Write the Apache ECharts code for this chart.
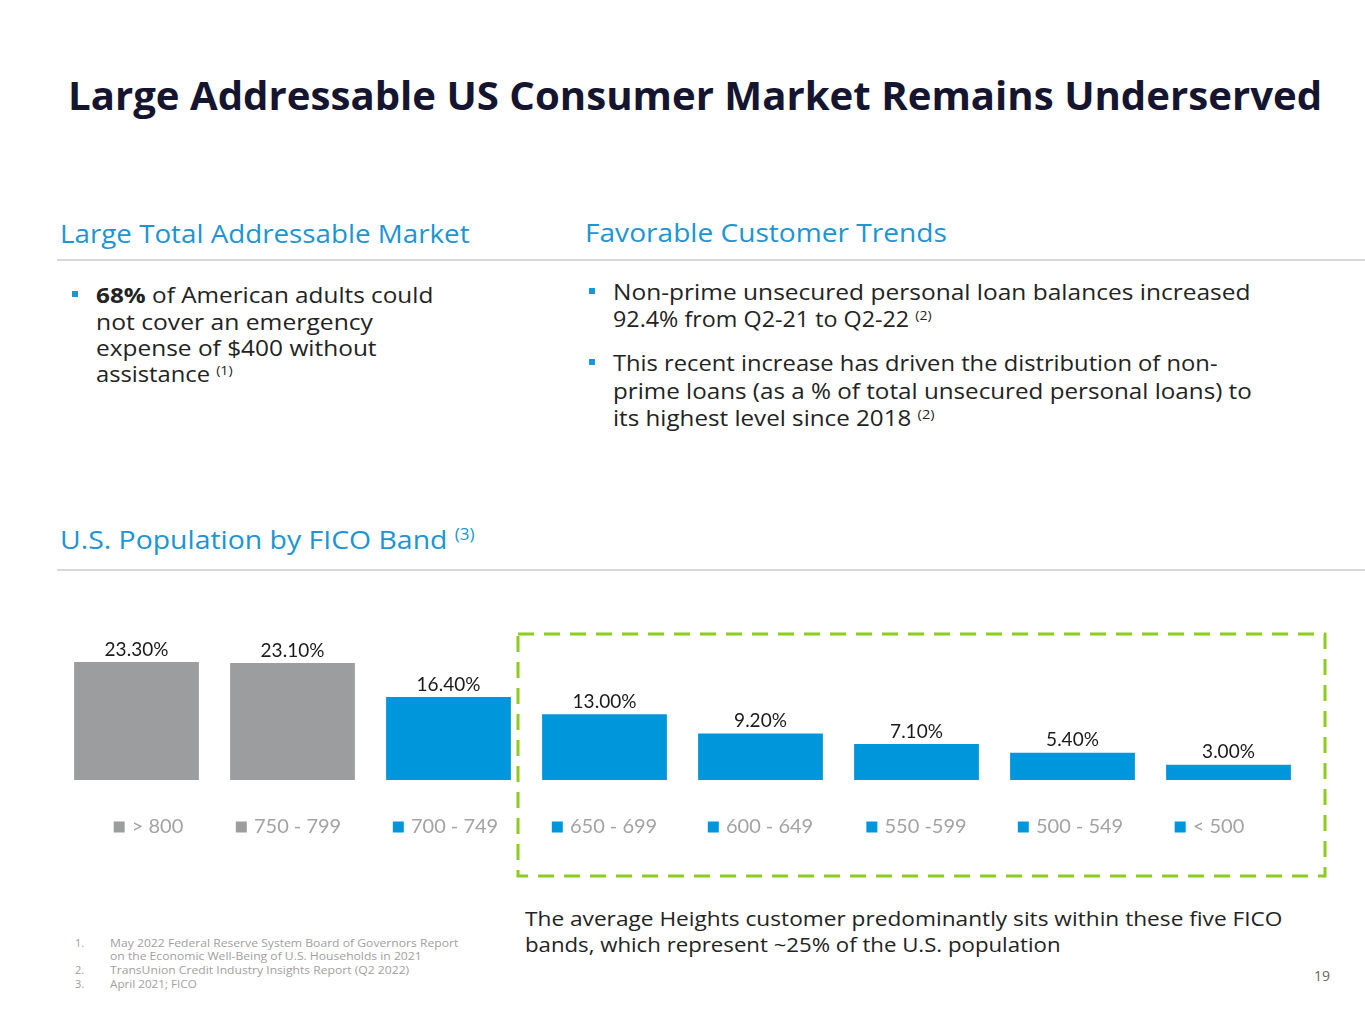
<!DOCTYPE html>
<html>
<head>
<meta charset="utf-8">
<script src="https://cdn.jsdelivr.net/npm/echarts@6/dist/echarts.min.js"></script>
<style>
  html, body { margin:0; padding:0; background:#fff; }
  #page { position:relative; width:1365px; height:1024px; overflow:hidden; font-family:"Open Sans", sans-serif; }
  .ln { position:absolute; white-space:nowrap; transform-origin:0 50%; line-height:1; }
  .ln sup { font-size:0.6em; vertical-align:0.55em; line-height:0; }
  .title { font-weight:700; color:#15152f; font-size:39px; }
  .head { color:#1b95d3; font-size:26px; }
  .body { color:#232323; font-size:22px; }
  .btm { color:#232323; font-size:20px; }
  .fn { color:#a0a0a0; font-size:11px; }
  .pg { color:#666; font-size:14px; }
  .rule { position:absolute; left:57px; right:0; height:1.5px; background:#d8d8d8; }
  .sq { position:absolute; width:6px; height:6px; background:#1b95d3; }
  #chart { position:absolute; left:0; top:0; width:1365px; height:1024px; }
</style>
</head>
<body>
<div id="page">
  <div class="ln title" data-w="1254" style="left:68px; top:94px;">Large Addressable US Consumer Market Remains Underserved</div>

  <div class="ln head" data-w="410" style="left:60px; top:233px;">Large Total Addressable Market</div>
  <div class="ln head" data-w="362" style="left:585px; top:232px;">Favorable Customer Trends</div>
  <div class="rule" style="top:259px;"></div>

  <div class="sq" style="left:72px; top:291px;"></div>
  <div class="ln body" data-w="337" style="left:96px; top:294px;"><b>68%</b> of American adults could</div>
  <div class="ln body" data-w="277" style="left:96px; top:321px;">not cover an emergency</div>
  <div class="ln body" data-w="281" style="left:96px; top:347px;">expense of $400 without</div>
  <div class="ln body" data-w="137" style="left:96px; top:373px;">assistance <sup>(1)</sup></div>

  <div class="sq" style="left:589px; top:288px;"></div>
  <div class="ln body" data-w="637" style="left:613px; top:291px;">Non-prime unsecured personal loan balances increased</div>
  <div class="ln body" data-w="319" style="left:613px; top:318px;">92.4% from Q2-21 to Q2-22 <sup>(2)</sup></div>
  <div class="sq" style="left:589px; top:359px;"></div>
  <div class="ln body" data-w="605" style="left:613px; top:362px;">This recent increase has driven the distribution of non-</div>
  <div class="ln body" data-w="639" style="left:613px; top:390px;">prime loans (as a % of total unsecured personal loans) to</div>
  <div class="ln body" data-w="322" style="left:613px; top:417px;">its highest level since 2018 <sup>(2)</sup></div>

  <div class="ln head" data-w="415" style="left:60px; top:539px;">U.S. Population by FICO Band <sup>(3)</sup></div>
  <div class="rule" style="top:569px;"></div>

  <div class="ln btm" data-w="758" style="left:525px; top:919px;">The average Heights customer predominantly sits within these five FICO</div>
  <div class="ln btm" data-w="535" style="left:525px; top:945px;">bands, which represent ~25% of the U.S. population</div>

  <div class="ln fn" style="left:75px; top:942px;">1.</div>
  <div class="ln fn" data-w="348" style="left:110px; top:942px;">May 2022 Federal Reserve System Board of Governors Report</div>
  <div class="ln fn" data-w="312" style="left:110px; top:955px;">on the Economic Well-Being of U.S. Households in 2021</div>
  <div class="ln fn" style="left:75px; top:969px;">2.</div>
  <div class="ln fn" data-w="299" style="left:110px; top:969px;">TransUnion Credit Industry Insights Report (Q2 2022)</div>
  <div class="ln fn" style="left:75px; top:983px;">3.</div>
  <div class="ln fn" data-w="87" style="left:110px; top:983px;">April 2021; FICO</div>

  <div class="ln pg" style="left:1314px; top:976px;">19</div>

  <div id="chart"></div>
</div>
<script>
// ---- data ----
var categories = ['> 800', '750 - 799', '700 - 749', '650 - 699', '600 - 649', '550 -599', '500 - 549', '< 500'];
var shares = [23.3, 23.1, 16.4, 13.0, 9.2, 7.1, 5.4, 3.0];
var bandGroup = ['grey', 'grey', 'blue', 'blue', 'blue', 'blue', 'blue', 'blue'];
var groupColors = { grey: '#9b9d9e', blue: '#0096db' };

// ---- style: horizontal nudge of the legend-like axis labels (px, styling only) ----
var labelNudge = [12, -4, -3, 0, 0, 0, -2, -19];

// ---- fit text lines to the reference widths ----
function fitLines() {
  document.querySelectorAll('.ln').forEach(function (el) {
    el.style.transform = 'translateY(-50%)';
    var w = parseFloat(el.getAttribute('data-w'));
    if (!w) return;
    var nat = el.scrollWidth;
    if (nat > 0) el.style.transform = 'translateY(-50%) scaleX(' + (w / nat) + ')';
  });
}
fitLines();
if (document.fonts && document.fonts.ready) document.fonts.ready.then(fitLines);

// ---- chart ----
var chart = echarts.init(document.getElementById('chart'), null, { renderer: 'canvas' });
var chartFont = 'Lato, "Open Sans", sans-serif';
var rich = {
  sg: { width: 11, height: 11, backgroundColor: groupColors.grey, fontSize: 1 },
  sb: { width: 11, height: 11, backgroundColor: groupColors.blue, fontSize: 1 }
};
labelNudge.forEach(function (n, i) {
  rich['p' + i] = { width: Math.max(0, 2 * n), fontSize: 1 };
  rich['q' + i] = { width: Math.max(0, -2 * n), fontSize: 1 };
});
rich.t = { fontSize: 20, color: '#a3a3a3', fontFamily: chartFont, padding: [0, 0, 0, 2] };

chart.setOption({
  backgroundColor: 'transparent',
  animation: false,
  grid: { left: 58.5, right: 58.5, top: 628, bottom: 244, containLabel: false },
  xAxis: {
    type: 'category',
    data: categories,
    axisLine: { show: false },
    axisTick: { show: false },
    axisLabel: {
      interval: 0,
      hideOverlap: false,
      margin: 37,
      formatter: function (v, i) {
        return '{p' + i + '| }{' + (bandGroup[i] === 'grey' ? 'sg' : 'sb') + '| }{t| ' + v + '}{q' + i + '| }';
      },
      rich: rich
    }
  },
  yAxis: { type: 'value', min: 0, max: 30, show: false, splitLine: { show: false } },
  series: [{
    type: 'bar',
    barCategoryGap: '20%',
    data: shares.map(function (v, i) {
      return { value: v, itemStyle: { color: groupColors[bandGroup[i]] } };
    }),
    label: {
      show: true,
      position: 'top',
      distance: 3,
      fontSize: 19,
      fontFamily: chartFont,
      color: '#1a1a1a',
      formatter: function (p) { return p.value.toFixed(2) + '%'; }
    }
  }],
  graphic: [{
    type: 'rect',
    shape: { x: 518, y: 634, width: 807, height: 242 },
    style: { fill: 'none', stroke: '#8ccc1e', lineWidth: 3, lineDash: [16, 10] },
    silent: true
  }]
});
</script>
</body>
</html>
